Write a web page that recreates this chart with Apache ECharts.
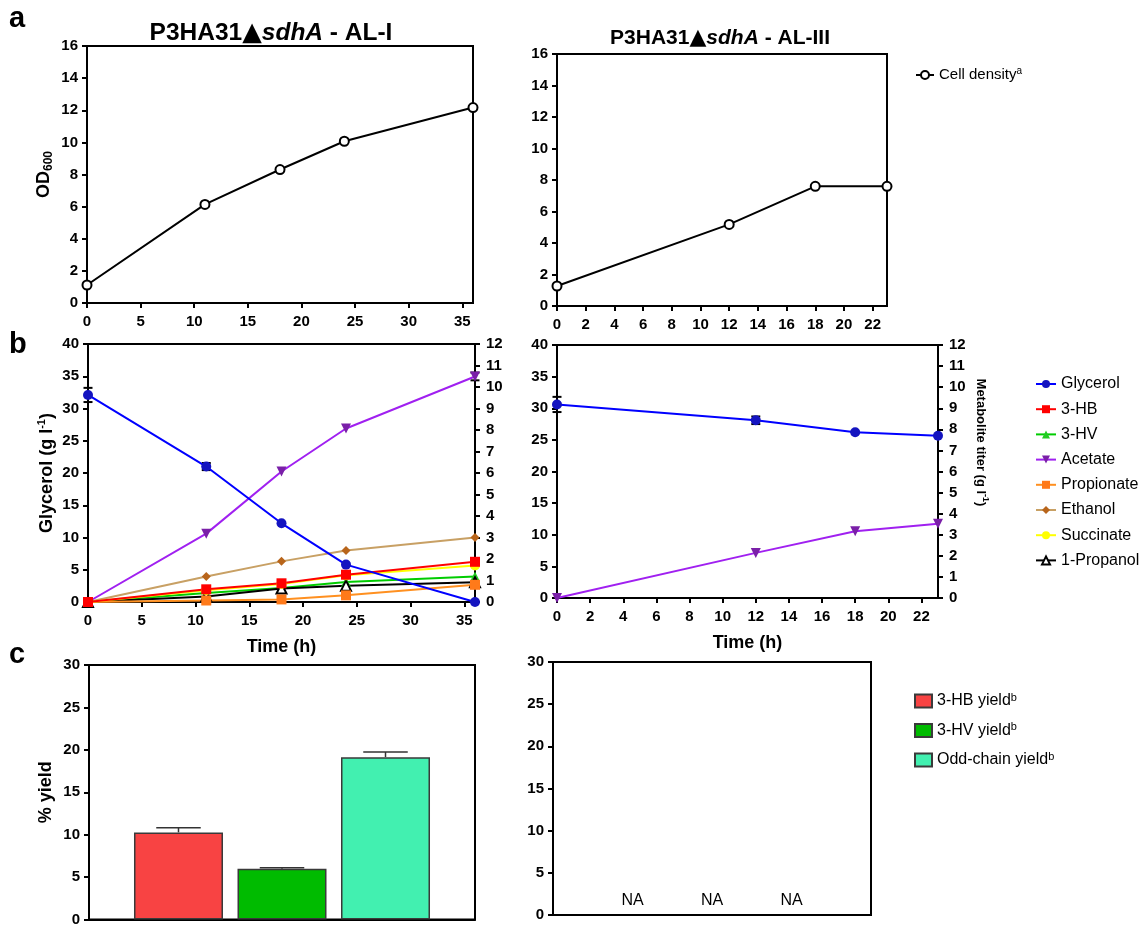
<!DOCTYPE html>
<html>
<head>
<meta charset="utf-8">
<script src="https://cdn.jsdelivr.net/npm/echarts@6/dist/echarts.min.js"></script>
<style>
  html, body { margin: 0; padding: 0; background: #fff; }
  #c { width: 1145px; height: 927px; }
</style>
</head>
<body>
<div id="c"></div>
<script>
// ---- Panel a: cell density (OD600) ----
const timeAL1 = [0, 11, 18, 24, 36];
const odAL1 = [1.12, 6.14, 8.31, 10.07, 12.17];
const timeAL3 = [0, 12, 18, 23];
const odAL3 = [1.27, 5.18, 7.6, 7.6];

// ---- Panel b: glycerol (left axis, g/l) and metabolite titers (right axis, g/l) ----
const glycerolAL1 = [32.1, 21.0, 12.2, 5.8, 0.0];
const glycerolErrAL1 = [1.1, 0.55, 0, 0, 0];
const acetateAL1 = [0, 3.18, 6.07, 8.07, 10.49];
const acetateErrAL1 = [0, 0, 0, 0, 0.18];
const hbAL1 = [0, 0.59, 0.87, 1.27, 1.87];
const hvAL1 = [0, 0.42, 0.65, 0.93, 1.19];
const propionateAL1 = [0, 0.07, 0.12, 0.31, 0.8];
const ethanolAL1 = [0, 1.19, 1.89, 2.4, 3.0];
const succinateAL1 = [0, 0.55, 0.84, 1.24, 1.7];
const propanolAL1 = [0, 0.26, 0.63, 0.76, 0.92];

const glycerolAL3 = [30.6, 28.1, 26.2, 25.65];
const glycerolErrAL3 = [1.2, 0.6, 0, 0];
const acetateAL3 = [0, 2.14, 3.17, 3.52];

// ---- Panel c: yields (%) ----
const yieldNames = ['3-HB yield', '3-HV yield', 'Odd-chain yield'];
const yieldColors = ['#f84343', '#00bb00', '#42f0b0'];
const yieldAL1 = [10.27, 5.99, 19.14];
const yieldErrAL1 = [0.55, 0.12, 0.6];
const yieldAL3 = [0, 0, 0];
const yieldAL3Text = ['NA', 'NA', 'NA'];

// ---- tick settings ----
const odTicks = { min: 0, max: 16, interval: 2 };
const glyTicks = { min: 0, max: 40, interval: 5 };
const metTicks = { min: 0, max: 12, interval: 1 };
const yieldTicks = { min: 0, max: 30, interval: 5 };
const timeTicksAL1 = { min: 0, max: 36, interval: 5 };
const timeTicksAL3 = { min: 0, max: 23, interval: 2 };

const FONT = '"Liberation Sans", Arial, Helvetica, sans-serif';
const pairs = (t, v) => t.map((x, i) => [x, v[i]]);
const errPairs = (t, v, e) => t.map((x, i) => [x, v[i], e[i]]).filter(d => d[2] > 0);

function axis(type, extra, labelExtra) {
  return Object.assign({
    type: type,
    axisLine: { show: true, onZero: false, lineStyle: { color: '#000', width: 2 } },
    axisTick: { show: true, length: 5, lineStyle: { color: '#000', width: 2 } },
    axisLabel: Object.assign({ color: '#000', fontWeight: 'bold', fontSize: 15, fontFamily: FONT, margin: 9 }, labelExtra || {}),
    splitLine: { show: false }
  }, extra);
}

const supRich = {
  b: { fontSize: 18, fontWeight: 'bold', fontFamily: FONT, color: '#000', lineHeight: 22 },
  s: { fontSize: 11, fontWeight: 'bold', fontFamily: FONT, color: '#000', verticalAlign: 'top', lineHeight: 22 },
  sub: { fontSize: 12, fontWeight: 'bold', fontFamily: FONT, color: '#000', verticalAlign: 'bottom', lineHeight: 18 },
  m: { fontSize: 13, fontWeight: 'bold', fontFamily: FONT, color: '#000', lineHeight: 18 },
  ms: { fontSize: 9, fontWeight: 'bold', fontFamily: FONT, color: '#000', verticalAlign: 'top', lineHeight: 18 }
};

const xNameStyle = { fontSize: 18, fontWeight: 'bold', fontFamily: FONT, color: '#000' };

// error bars with caps (both directions)
function errRender(params, api) {
  const x = api.value(0), v = api.value(1), e = api.value(2);
  const hi = api.coord([x, v + e]);
  const lo = api.coord([x, v - e]);
  const w = 4.5;
  const st = { stroke: '#000', lineWidth: 2 };
  return {
    type: 'group',
    children: [
      { type: 'line', shape: { x1: hi[0], y1: hi[1], x2: lo[0], y2: lo[1] }, style: st },
      { type: 'line', shape: { x1: hi[0] - w, y1: hi[1], x2: hi[0] + w, y2: hi[1] }, style: st },
      { type: 'line', shape: { x1: lo[0] - w, y1: lo[1], x2: lo[0] + w, y2: lo[1] }, style: st }
    ]
  };
}

const BAR_W = 89, BAR_GAP = '16.3%';
// upper error whisker above grouped bars
function barErrRender(params, api) {
  const v = api.value(1), e = api.value(2), idx = api.value(3);
  const layout = api.barLayout({ count: 3, barWidth: BAR_W, barGap: BAR_GAP });
  const off = layout[idx].offsetCenter;
  const top = api.coord([0, v]);
  const hi = api.coord([0, v + e]);
  const cx = top[0] + off;
  const w = BAR_W / 4;
  const st = { stroke: '#333', lineWidth: 1.5 };
  return {
    type: 'group',
    children: [
      { type: 'line', shape: { x1: cx, y1: top[1], x2: cx, y2: hi[1] }, style: st },
      { type: 'line', shape: { x1: cx - w, y1: hi[1], x2: cx + w, y2: hi[1] }, style: st }
    ]
  };
}

function lineSeries(name, xi, yi, data, color, markerColor, symbol, size, extra) {
  return Object.assign({
    type: 'line', name: name, xAxisIndex: xi, yAxisIndex: yi, data: data,
    symbol: symbol, symbolSize: size, showAllSymbol: true,
    lineStyle: { color: color, width: 2 },
    itemStyle: { color: markerColor },
    emphasis: { disabled: true },
    animation: false, clip: false
  }, extra || {});
}

const metaSeriesAL1 = [
  lineSeries('Acetate', 2, 3, pairs(timeAL1, acetateAL1), '#a020f0', '#7a1fa8', 'triangle', 10, { symbolRotate: 180 }),
  lineSeries('Ethanol', 2, 3, pairs(timeAL1, ethanolAL1), '#c8a064', '#b8651b', 'diamond', 9),
  lineSeries('3-HV', 2, 3, pairs(timeAL1, hvAL1), '#00cc00', '#22cc22', 'triangle', 10),
  lineSeries('1-Propanol', 2, 3, pairs(timeAL1, propanolAL1), '#000', '#fff', 'triangle', 10,
    { itemStyle: { color: '#fff', borderColor: '#000', borderWidth: 2 } }),
  lineSeries('Propionate', 2, 3, pairs(timeAL1, propionateAL1), '#ff9020', '#ff7a1a', 'rect', 10),
  lineSeries('Succinate', 2, 3, pairs(timeAL1, succinateAL1), '#ffff00', '#ffff00', 'circle', 10),
  lineSeries('3-HB', 2, 3, pairs(timeAL1, hbAL1), '#ff0000', '#ff0000', 'rect', 10),
  lineSeries('Glycerol', 2, 2, pairs(timeAL1, glycerolAL1), '#0000ff', '#1414c0', 'circle', 10)
];

const cellStyle = { itemStyle: { color: '#fff', borderColor: '#000', borderWidth: 2 } };

function titleRich(size) {
  return {
    b: { fontSize: size, fontWeight: 'bold', fontFamily: FONT, color: '#000' },
    t: { fontSize: size + 1, fontFamily: '"DejaVu Sans", sans-serif', color: '#000' },
    i: { fontSize: size, fontWeight: 'bold', fontStyle: 'italic', fontFamily: FONT, color: '#000' }
  };
}

const option = {
  animation: false,
  backgroundColor: '#fff',
  textStyle: { fontFamily: FONT },
  grid: [
    { left: 87, top: 46, width: 386, height: 257, show: true, borderColor: '#000', borderWidth: 2 },
    { left: 557, top: 54, width: 330, height: 252, show: true, borderColor: '#000', borderWidth: 2 },
    { left: 88, top: 344, width: 387, height: 258, show: true, borderColor: '#000', borderWidth: 2 },
    { left: 557, top: 345, width: 381, height: 253, show: true, borderColor: '#000', borderWidth: 2 },
    { left: 89, top: 665, width: 386, height: 257, show: true, borderColor: '#000', borderWidth: 2 },
    { left: 553, top: 662, width: 318, height: 253, show: true, borderColor: '#000', borderWidth: 2 }
  ],
  xAxis: [
    axis('value', Object.assign({ gridIndex: 0 }, timeTicksAL1), { margin: 11, showMaxLabel: false }),
    axis('value', Object.assign({ gridIndex: 1 }, timeTicksAL3), { margin: 11, showMaxLabel: false }),
    axis('value', Object.assign({ gridIndex: 2, name: 'Time (h)', nameLocation: 'middle', nameGap: 36, nameTextStyle: xNameStyle }, timeTicksAL1), { margin: 11, showMaxLabel: false }),
    axis('value', Object.assign({ gridIndex: 3, name: 'Time (h)', nameLocation: 'middle', nameGap: 36, nameTextStyle: xNameStyle }, timeTicksAL3), { margin: 11, showMaxLabel: false }),
    axis('category', { gridIndex: 4, data: [''], axisTick: { show: false }, axisLabel: { show: false } }),
    axis('category', { gridIndex: 5, data: [''], axisTick: { show: false }, axisLabel: { show: false } })
  ],
  yAxis: [
    axis('value', Object.assign({ gridIndex: 0, name: '{b|OD}{sub|600}', nameLocation: 'middle', nameGap: 32, nameTextStyle: { rich: supRich } }, odTicks)),
    axis('value', Object.assign({ gridIndex: 1 }, odTicks)),
    axis('value', Object.assign({ gridIndex: 2, name: '{b|Glycerol (g l}{s|-1}{b|)}', nameLocation: 'middle', nameGap: 30, nameTextStyle: { rich: supRich } }, glyTicks)),
    axis('value', Object.assign({ gridIndex: 2, position: 'right' }, metTicks), { margin: 11 }),
    axis('value', Object.assign({ gridIndex: 3 }, glyTicks)),
    axis('value', Object.assign({ gridIndex: 3, position: 'right', name: '{m|Metabolite titer (g l}{ms|-1}{m|)}', nameLocation: 'middle', nameGap: 34, nameRotate: -90,
      nameTextStyle: { rich: supRich, padding: [0, 58, 0, 0] } }, metTicks), { margin: 11 }),
    axis('value', Object.assign({ gridIndex: 4, name: '{b|% yield}', nameLocation: 'middle', nameGap: 32, nameTextStyle: { rich: supRich } }, yieldTicks)),
    axis('value', Object.assign({ gridIndex: 5 }, yieldTicks))
  ],
  legend: [
    {
      data: ['Cell density'], left: 910, top: 61, itemWidth: 18, itemHeight: 10,
      formatter: n => '{n|' + n + '}{s|a}',
      textStyle: { rich: {
        n: { fontSize: 15, fontFamily: FONT, color: '#000', lineHeight: 18 },
        s: { fontSize: 10, fontFamily: FONT, color: '#000', verticalAlign: 'top', lineHeight: 18 } } }
    },
    {
      data: ['Glycerol', '3-HB', '3-HV', 'Acetate', 'Propionate', 'Ethanol', 'Succinate', '1-Propanol'],
      orient: 'vertical', left: 1030, top: 370, itemWidth: 20, itemHeight: 10, itemGap: 7.2,
      textStyle: { fontSize: 16, fontFamily: FONT, color: '#000', lineHeight: 18 }
    },
    {
      data: yieldNames, orient: 'vertical', left: 909, top: 687, itemWidth: 17, itemHeight: 13, itemGap: 12.5,
      icon: 'rect',
      formatter: n => '{n|' + n + '}{s|b}',
      textStyle: { rich: {
        n: { fontSize: 16, fontFamily: FONT, color: '#000', lineHeight: 18 },
        s: { fontSize: 11, fontFamily: FONT, color: '#000', verticalAlign: 'top', lineHeight: 18 } } }
    }
  ],
  graphic: [
    { type: 'text', x: 9, y: 4, style: { text: 'a', fontSize: 29, fontWeight: 'bold', fontFamily: FONT, fill: '#000' } },
    { type: 'text', x: 9, y: 330, style: { text: 'b', fontSize: 29, fontWeight: 'bold', fontFamily: FONT, fill: '#000' } },
    { type: 'text', x: 9, y: 640, style: { text: 'c', fontSize: 29, fontWeight: 'bold', fontFamily: FONT, fill: '#000' } },
    { type: 'text', x: 271, y: 20, style: { text: '{b|P3HA31}{t|▲}{i|sdhA}{b| - AL-I}', align: 'center', rich: titleRich(24.5) } },
    { type: 'text', x: 720, y: 27, style: { text: '{b|P3HA31}{t|▲}{i|sdhA}{b| - AL-III}', align: 'center', rich: titleRich(21) } }
  ],
  series: [
    // panel a
    lineSeries('Cell density', 0, 0, pairs(timeAL1, odAL1), '#000', '#fff', 'circle', 9, cellStyle),
    lineSeries('Cell density', 1, 1, pairs(timeAL3, odAL3), '#000', '#fff', 'circle', 9, cellStyle),
    // panel b, AL-I
    ...metaSeriesAL1,
    { type: 'custom', xAxisIndex: 2, yAxisIndex: 2, renderItem: errRender, data: errPairs(timeAL1, glycerolAL1, glycerolErrAL1), z: 3, silent: true },
    { type: 'custom', xAxisIndex: 2, yAxisIndex: 3, renderItem: errRender, data: errPairs(timeAL1, acetateAL1, acetateErrAL1), z: 3, silent: true },
    // panel b, AL-III
    lineSeries('Acetate', 3, 5, pairs(timeAL3, acetateAL3), '#a020f0', '#7a1fa8', 'triangle', 10, { symbolRotate: 180 }),
    lineSeries('Glycerol', 3, 4, pairs(timeAL3, glycerolAL3), '#0000ff', '#1414c0', 'circle', 10),
    { type: 'custom', xAxisIndex: 3, yAxisIndex: 4, renderItem: errRender, data: errPairs(timeAL3, glycerolAL3, glycerolErrAL3), z: 3, silent: true },
    // panel c, AL-I yields
    ...yieldNames.map((n, i) => ({
      type: 'bar', name: n, xAxisIndex: 4, yAxisIndex: 6, data: [yieldAL1[i]],
      barWidth: BAR_W, barGap: BAR_GAP,
      itemStyle: { color: yieldColors[i], borderColor: '#3a3a3a', borderWidth: 1.5 },
      emphasis: { disabled: true }
    })),
    { type: 'custom', xAxisIndex: 4, yAxisIndex: 6, renderItem: barErrRender,
      data: yieldAL1.map((v, i) => [0, v, yieldErrAL1[i], i]), z: 1, silent: true },
    // panel c, AL-III yields (not available)
    ...yieldNames.map((n, i) => ({
      type: 'bar', name: n, xAxisIndex: 5, yAxisIndex: 7, data: [yieldAL3[i]],
      barWidth: 60, barGap: '32.5%',
      itemStyle: { color: yieldColors[i], borderWidth: 0 },
      label: { show: true, position: 'top', distance: 6, formatter: yieldAL3Text[i],
        fontSize: 16, fontFamily: FONT, color: '#000' },
      emphasis: { disabled: true }
    }))
  ]
};

const chart = echarts.init(document.getElementById('c'));
chart.setOption(option);
</script>
</body>
</html>
